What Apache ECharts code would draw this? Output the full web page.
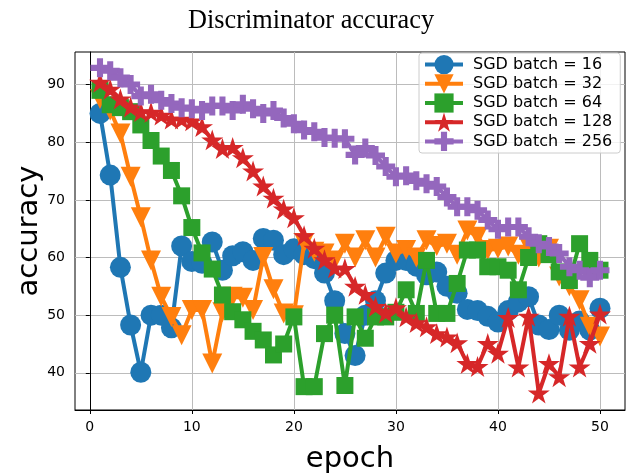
<!DOCTYPE html>
<html>
<head>
<meta charset="utf-8">
<script src="https://cdn.jsdelivr.net/npm/echarts@6/dist/echarts.min.js"></script>
<style>
html, body { margin: 0; padding: 0; background: #fff; }
#chart { width: 629px; height: 474px; }
</style>
</head>
<body>
<div id="chart"></div>
<script>
// epochs on the x axis
var epochs = [1, 2, 3, 4, 5, 6, 7, 8, 9, 10,
  11, 12, 13, 14, 15, 16, 17, 18, 19, 20,
  21, 22, 23, 24, 25, 26, 27, 28, 29, 30,
  31, 32, 33, 34, 35, 36, 37, 38, 39, 40,
  41, 42, 43, 44, 45, 46, 47, 48, 49, 50];

// accuracy, one list per batch size
var batch16 = [85.0, 74.3, 58.3, 48.3, 40.1, 50.0, 50.0, 47.8, 62.0, 59.3,
  59.0, 62.7, 57.8, 60.3, 61.0, 59.5, 63.3, 63.0, 60.5, 61.5,
  60.5, 59.8, 57.3, 52.5, 46.8, 43.0, 50.0, 52.5, 57.3, 59.5,
  59.5, 58.5, 57.0, 57.5, 55.0, 53.8, 51.0, 50.8, 49.8, 48.8,
  50.8, 52.3, 53.2, 48.3, 47.5, 50.0, 47.4, 49.0, 47.4, 51.2];
var batch32 = [87.5, 85.5, 81.5, 74.0, 67.0, 59.5, 53.2, 49.7, 46.5, 50.9,
  50.9, 41.6, 50.5, 53.2, 53.0, 50.9, 60.1, 54.5, 50.3, 50.0,
  62.5, 61.0, 60.7, 59.5, 62.4, 60.0, 63.0, 60.0, 63.6, 60.7,
  61.3, 60.0, 63.0, 62.0, 62.4, 60.5, 64.7, 63.6, 61.3, 61.5,
  61.9, 60.5, 62.0, 60.0, 61.5, 56.7, 55.0, 52.6, 48.0, 46.3];
var batch64 = [89.0, 86.5, 86.0, 85.3, 83.0, 80.3, 77.6, 75.1, 70.7, 65.2,
  60.8, 58.0, 53.5, 50.6, 49.2, 47.2, 45.7, 43.1, 45.0, 49.7,
  37.6, 37.6, 46.8, 50.0, 37.8, 49.7, 46.0, 49.7, 49.7, 50.5,
  54.4, 50.3, 59.5, 50.3, 50.3, 55.5, 61.3, 61.3, 58.4, 58.4,
  57.8, 54.4, 60.0, 62.4, 60.5, 57.5, 56.0, 62.4, 59.5, 57.8];
var batch128 = [90.4, 89.2, 87.5, 86.1, 85.3, 85.2, 84.7, 84.0, 84.0, 83.7,
  82.7, 80.4, 78.9, 79.1, 77.3, 75.0, 72.4, 70.3, 68.4, 66.9,
  63.8, 61.6, 59.6, 58.2, 58.1, 55.0, 53.6, 51.5, 50.4, 51.3,
  49.7, 48.7, 48.0, 46.8, 46.2, 45.2, 41.6, 41.1, 45.1, 43.4,
  49.6, 41.0, 49.8, 36.5, 41.6, 39.3, 49.8, 41.0, 45.1, 50.2];
var batch256 = [92.9, 92.4, 91.2, 90.0, 88.0, 88.3, 87.3, 86.7, 86.0, 85.8,
  85.5, 86.3, 86.3, 85.5, 86.6, 85.8, 85.0, 85.5, 84.2, 83.2,
  82.1, 81.8, 80.8, 80.7, 80.6, 77.8, 79.0, 77.7, 75.8, 74.0,
  74.2, 73.3, 72.8, 72.3, 70.5, 68.8, 68.8, 68.2, 66.5, 64.9,
  65.3, 65.3, 63.6, 62.4, 61.9, 60.7, 58.4, 57.8, 56.5, 57.8];

var seriesNames = ['SGD batch = 16', 'SGD batch = 32', 'SGD batch = 64', 'SGD batch = 128', 'SGD batch = 256'];
var xTicks = [0, 10, 20, 30, 40, 50];
var yTicks = [40, 50, 60, 70, 80, 90];

var colors = ['#1f77b4', '#ff7f0e', '#2ca02c', '#d62728', '#9467bd'];
var STAR = 'path://M50,0 L61.2,34.5 L97.6,34.5 L68.2,55.9 L79.4,90.5 L50,69.1 L20.6,90.5 L31.8,55.9 L2.4,34.5 L38.8,34.5 Z';
var PLUS = 'path://M34,0 H66 V34 H100 V66 H66 V100 H34 V66 H0 V34 H34 Z';
var markers = [
  { symbol: 'circle', size: 21, rotate: 0 },
  { symbol: 'triangle', size: 20, rotate: 180 },
  { symbol: 'rect', size: 17, rotate: 0 },
  { symbol: STAR, size: 22, rotate: 0 },
  { symbol: PLUS, size: 19, rotate: 0 }
];

function pairs(ys) {
  return epochs.map(function (e, i) { return [e, ys[i]]; });
}

var allData = [batch16, batch32, batch64, batch128, batch256];
var series = allData.map(function (ys, i) {
  return {
    name: seriesNames[i],
    type: 'line',
    data: pairs(ys),
    z: 2 + i,
    symbol: markers[i].symbol,
    symbolSize: markers[i].size,
    symbolRotate: markers[i].rotate,
    symbolKeepAspect: true,
    showAllSymbol: true,
    lineStyle: { width: 4, color: colors[i] },
    itemStyle: { color: colors[i] },
    emphasis: { disabled: true },
    animation: false
  };
});

var chart = echarts.init(document.getElementById('chart'));
chart.setOption({
  animation: false,
  title: {
    text: 'Discriminator accuracy',
    left: 183,
    top: 3,
    textStyle: { fontFamily: 'Liberation Serif', fontSize: 26.3, fontWeight: 'normal', color: '#000' }
  },
  legend: {
    orient: 'vertical',
    left: 419,
    top: 53,
    padding: [2, 8, 2, 4],
    itemWidth: 38,
    itemHeight: 24,
    itemGap: 0,
    lineStyle: { width: 4 },
    backgroundColor: 'rgba(255,255,255,0.8)',
    borderColor: '#cccccc',
    borderWidth: 1,
    borderRadius: 3,
    textStyle: { fontFamily: 'DejaVu Sans', fontSize: 16, color: '#000', padding: [0, 0, 0, 5] },
    data: seriesNames
  },
  grid: {
    left: 75, right: 4, top: 52, bottom: 64,
    outerBoundsMode: 'none',
    containLabel: false,
    show: true, borderColor: '#000', borderWidth: 1, backgroundColor: '#fff'
  },
  xAxis: {
    type: 'value',
    min: -1.45, max: 52.45,
    name: 'epoch',
    nameLocation: 'middle',
    nameGap: 35,
    nameTextStyle: { fontFamily: 'DejaVu Sans', fontSize: 29, color: '#000' },
    axisLine: { show: true, lineStyle: { color: '#000', width: 1 } },
    axisTick: { show: true, length: 4, customValues: xTicks, lineStyle: { color: '#000' } },
    axisLabel: { customValues: xTicks, margin: 10, fontFamily: 'DejaVu Sans', fontSize: 14, color: '#000' },
    splitLine: { show: true, lineStyle: { color: '#bcbcbc', width: 1 } }
  },
  yAxis: {
    type: 'value',
    min: 33.55, max: 95.65,
    name: 'accuracy',
    nameLocation: 'middle',
    nameGap: 31,
    nameMoveOverlap: false,
    nameTextStyle: { fontFamily: 'DejaVu Sans', fontSize: 29, color: '#000' },
    axisLine: { show: true, lineStyle: { color: '#000', width: 1 } },
    axisTick: { show: true, length: 4, customValues: yTicks, lineStyle: { color: '#000' } },
    axisLabel: { customValues: yTicks, margin: 10, fontFamily: 'DejaVu Sans', fontSize: 14, color: '#000' },
    splitLine: { show: true, lineStyle: { color: '#bcbcbc', width: 1 } }
  },
  series: series
});
</script>
</body>
</html>
